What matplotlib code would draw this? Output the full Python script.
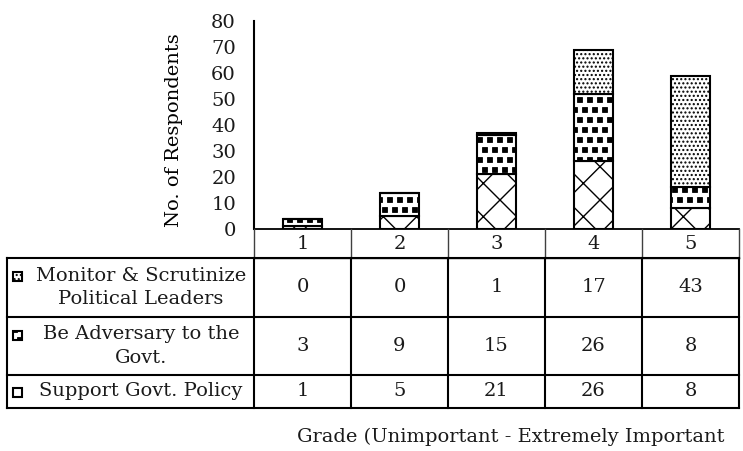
import matplotlib
matplotlib.use("Agg")
import numpy as np
import matplotlib.pyplot as plt
import matplotlib.transforms as mtransforms
from matplotlib import hatch as mhatch
from matplotlib.path import Path
from matplotlib.lines import Line2D
from matplotlib.patches import Rectangle

grades = [1, 2, 3, 4, 5]
support = [1, 5, 21, 26, 8]
adversary = [3, 9, 15, 26, 8]
monitor = [0, 0, 1, 17, 43]

row_labels = ["Monitor & Scrutinize\nPolitical Leaders",
              "Be Adversary to the\nGovt.",
              "Support Govt. Policy"]
row_values = [monitor, adversary, support]
row_hatches = ["....", "*", "x"]


class SquareDots(mhatch.Shapes):
    # '*' draws staggered filled squares instead of stars
    size = 0.22
    filled = True

    def __init__(self, hatch, density):
        self.num_rows = hatch.count('*') * 10  # must stay even
        self.shape_vertices = np.array(
            [[-1, -1], [1, -1], [1, 1], [-1, 1], [-1, -1]], dtype=float)
        self.shape_codes = np.array(
            [Path.MOVETO, Path.LINETO, Path.LINETO, Path.LINETO, Path.CLOSEPOLY],
            dtype=Path.code_type)
        super().__init__(hatch, density)


mhatch._hatch_types = [SquareDots if t is mhatch.Stars else t
                       for t in mhatch._hatch_types]

plt.rcParams["font.family"] = "DejaVu Serif"
plt.rcParams["hatch.linewidth"] = 1.0
plt.rcParams["text.color"] = "#1a1a1a"
FS = 14

W, H = 743, 451
fig = plt.figure(figsize=(W / 100, H / 100), dpi=100)


def fx(px):
    return px / W


def fy(py):
    return 1 - py / H


ax = fig.add_axes([fx(254), fy(229), (739 - 254) / W, (229 - 21) / H])

# stacked bars, bottom to top: support, adversary, monitor
bottom = [0] * len(grades)
for vals, hatch in [(support, "x"), (adversary, "*"), (monitor, "....")]:
    ax.bar(grades, vals, 0.4, bottom=bottom, color="white",
           edgecolor="black", linewidth=1.5, hatch=hatch)
    bottom = [b + v for b, v in zip(bottom, vals)]

ax.set_xlim(0.5, 5.5)
ax.set_ylim(0, 80)
ax.set_yticks(range(0, 81, 10))
ax.set_xticks([])
ax.tick_params(axis="y", length=0, pad=13, labelsize=FS, colors="#1a1a1a")
for s in ["top", "right", "bottom"]:
    ax.spines[s].set_visible(False)
ax.spines["left"].set_linewidth(1.5)
ax.set_ylabel("No. of Respondents", fontsize=FS)
ax.yaxis.set_label_coords((183 - 254) / 485, (229 - 130) / 208)

# data table under the plot
col_x = [254, 351, 448, 545, 642, 739]
blend = mtransforms.blended_transform_factory(ax.transData, fig.transFigure)


def hline(x0, x1, y, lw, c):
    fig.add_artist(Line2D([fx(x0), fx(x1)], [fy(y), fy(y)], lw=lw, color=c,
                          solid_capstyle="projecting"))


def vline(x, y0, y1, lw, c):
    fig.add_artist(Line2D([fx(x), fx(x)], [fy(y0), fy(y1)], lw=lw, color=c,
                          solid_capstyle="projecting"))


# header row with the grade numbers
hline(254, 739, 229, 1.3, "black")
hline(254, 739, 258, 1.0, "#404040")
for x in col_x:
    vline(x, 229, 258, 1.0, "#404040")
for g in grades:
    ax.text(g, fy(244), str(g), transform=blend, ha="center", va="center",
            fontsize=FS)

row_y = [258, 317, 375, 408]
for y in row_y:
    hline(7, 739, y, 1.5, "black")
for x in [7] + col_x:
    vline(x, 258, 408, 1.5, "black")

for i, (label, vals, hatch) in enumerate(zip(row_labels, row_values, row_hatches)):
    yc = (row_y[i] + row_y[i + 1]) / 2
    ky = yc - 11 if "\n" in label else yc + 1
    fig.add_artist(Rectangle((fx(13), fy(ky + 4.5)), 9 / W, 9 / H,
                             transform=fig.transFigure, facecolor="white",
                             edgecolor="black", linewidth=1.5, hatch=hatch))
    fig.text(fx(141), fy(yc), label, ha="center", va="center",
             fontsize=FS, linespacing=1.4)
    for g, v in zip(grades, vals):
        ax.text(g, fy(yc), str(v), transform=blend, ha="center",
                va="center", fontsize=FS)

fig.text(fx(297), fy(437), "Grade (Unimportant - Extremely Important",
         ha="left", va="center", fontsize=FS)

fig.savefig("out.png", dpi=100)
